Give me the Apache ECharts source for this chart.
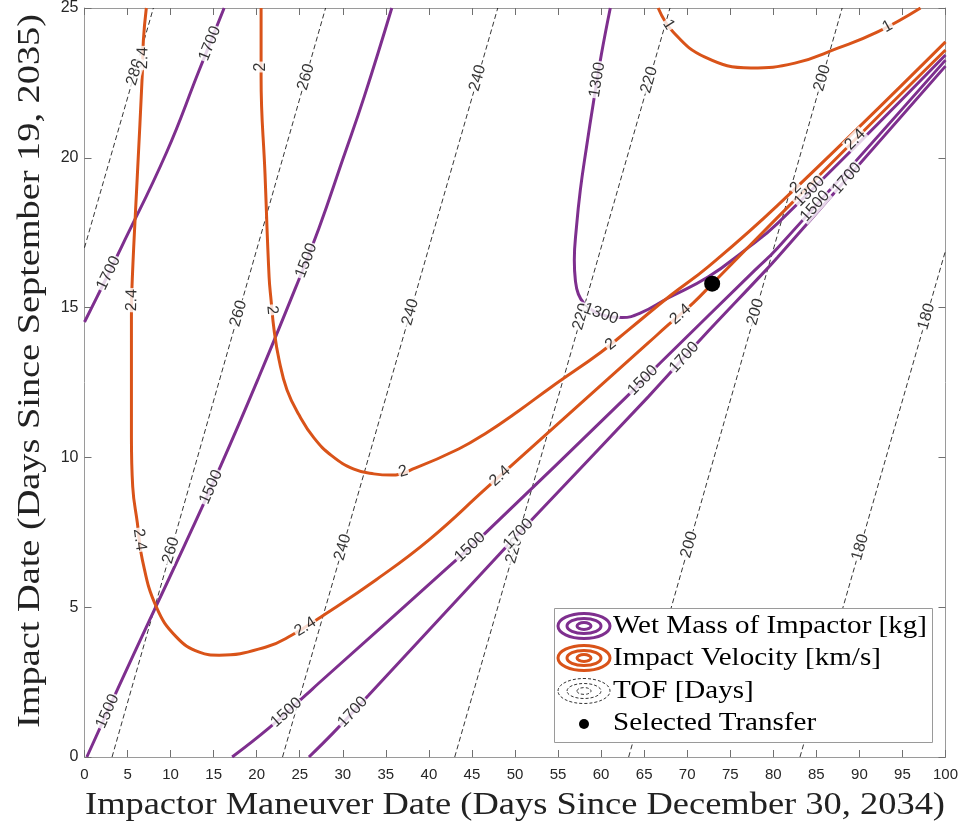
<!DOCTYPE html>
<html>
<head>
<meta charset="utf-8">
<script src="https://cdn.jsdelivr.net/npm/echarts@6/dist/echarts.min.js"></script>
<style>
  html, body { margin: 0; padding: 0; background: #fff; }
  #main { width: 961px; height: 832px; }
</style>
</head>
<body>
<div id="main"></div>
<script>
// Axis ranges (days)
const xRange = [0, 100];
const yRange = [0, 25];
const tickStep = 5;

// Time-of-flight contours [days], (maneuver day, impact day)
const tof280 = [[0, 17.0], [8.0, 25]];
const tof260 = [[3.2, 0], [28.0, 25]];
const tof240 = [[23.0, 0], [48.0, 25]];
const tof220 = [[43.0, 0], [68.0, 25]];
const tof200 = [[63.2, 0], [88.0, 25]];
const tof180 = [[83.1, 0], [100, 16.9]];

// Wet mass of impactor contours [kg]
const mass1700Upper = [[0, 14.52], [1.74, 15.52], [4.29, 17.02], [9.5, 20.16], [13.33, 22.93], [16.22, 25]];
const mass1500Upper = [[0.27, 0], [4.06, 2.40], [7.53, 4.55], [11.59, 7.05], [15.87, 9.75], [20.28, 12.70],
  [24.57, 15.70], [27.23, 17.65], [30.0, 19.95], [32.5, 22.05], [35.69, 25]];
const mass1300 = [[61.07, 25], [60.02, 23.43], [59.10, 21.83], [58.29, 20.33], [57.59, 18.93], [57.13, 17.66],
  [56.89, 16.59], [57.01, 15.92], [57.36, 15.45], [58.05, 15.13], [59.21, 14.87], [60.83, 14.70],
  [62.46, 14.67], [64.66, 14.83], [67.79, 15.32], [72.42, 16.02], [76.71, 16.92], [80.53, 17.82], [100, 23.43]];
const mass1500Lower = [[17.15, 0], [21.44, 0.97], [25.72, 2.07], [27.23, 2.47], [42.53, 6.41], [46.58, 7.48],
  [62.80, 11.98], [66.86, 13.15], [77.87, 16.25], [80.53, 17.0], [100, 23.26]];
const mass1700Lower = [[26.07, 0], [28.97, 0.83], [33.02, 2.07], [48.32, 6.81], [52.14, 7.98], [65.47, 12.02],
  [67.79, 12.75], [71.49, 13.92], [79.14, 16.25], [80.53, 16.69], [100, 23.06]];

// Impact velocity contours [km/s]
const vel24 = [[7.18, 25], [6.84, 23.93], [6.72, 22.83], [6.14, 19.43], [5.56, 16.02], [5.45, 14.69],
  [5.45, 10.68], [5.6, 9.02], [6.14, 7.81], [6.72, 6.58], [8.34, 5.01], [10.66, 4.01], [13.33, 3.50],
  [15.64, 3.40], [21.09, 3.67], [24.10, 4.07], [27.81, 4.74], [33.84, 5.91], [39.98, 7.24], [46.70, 8.98],
  [56.08, 11.40], [65.47, 13.82], [67.79, 14.42], [70.68, 15.15], [72.89, 15.79], [80.53, 18.02],
  [90.96, 21.03], [100, 23.60]];
const vel2 = [[20.51, 25], [20.51, 22.70], [20.97, 19.43], [21.44, 16.02], [21.67, 15.25], [22.02, 14.25],
  [22.60, 13.25], [23.52, 12.25], [24.91, 11.42], [26.65, 10.65], [28.74, 10.05], [31.29, 9.61],
  [33.60, 9.45], [35.69, 9.41], [38.47, 9.65], [43.45, 10.28], [46.58, 10.80], [50.41, 11.55],
  [54.23, 12.35], [60.02, 13.52], [63.15, 14.25], [68.13, 15.42], [72.42, 16.36], [80.53, 18.42], [100, 23.87]];
const vel1 = [[66.63, 25], [68.37, 24.20], [72.07, 23.36], [77.40, 23.0], [82.50, 23.16], [87.49, 23.66],
  [92.12, 24.20], [97.10, 25]];

// Chosen (maneuver day, impact day)
const selectedTransfer = [72.9, 15.8];

// Where each contour carries its inline value label
const tof280Labels = [[5.85, 22.86]];
const tof260Labels = [[10.0, 6.9], [17.9, 14.8], [25.7, 22.7]];
const tof240Labels = [[30.0, 7.0], [37.85, 14.85], [45.7, 22.66]];
const tof220Labels = [[49.9, 6.9], [57.7, 14.7], [65.6, 22.6]];
const tof200Labels = [[70.1, 7.1], [78.0, 14.85], [85.7, 22.66]];
const tof180Labels = [[90.1, 7.0], [97.8, 14.7]];
const mass1700UpperLabels = [[2.8, 16.15], [14.7, 23.8]];
const mass1500UpperLabels = [[2.9, 1.5], [14.8, 9.0], [25.5, 16.6]];
const mass1300Labels = [[59.7, 22.6], [60.0, 14.8], [83.8, 19.0]];
const mass1500LowerLabels = [[23.4, 1.5], [44.8, 7.0], [65.1, 12.5], [84.8, 18.4]];
const mass1700LowerLabels = [[30.9, 1.57], [50.4, 7.44], [69.8, 13.3], [88.4, 19.35]];
const vel24Labels = [[6.95, 23.33], [5.45, 15.25], [6.14, 7.24], [25.72, 4.31], [48.67, 9.25], [69.29, 14.75], [89.57, 20.59]];
const vel2Labels = [[20.51, 23.03], [21.67, 14.92], [37.08, 9.48], [61.18, 13.75], [82.5, 19.03]];
const vel1Labels = [[67.79, 24.43], [93.28, 24.37]];

// Legend entries
const legendNames = ['Wet Mass of Impactor [kg]', 'Impact Velocity [km/s]', 'TOF [Days]', 'Selected Transfer'];
const xTitle = 'Impactor Maneuver Date (Days Since December 30, 2034)';
const yTitle = 'Impact Date (Days Since September 19, 2035)';

const PURPLE = '#7E2F8E';
const ORANGE = '#D95319';

const contours = [
  { kind: 'tof', text: '280', pts: tof280, labels: tof280Labels },
  { kind: 'tof', text: '260', pts: tof260, labels: tof260Labels },
  { kind: 'tof', text: '240', pts: tof240, labels: tof240Labels },
  { kind: 'tof', text: '220', pts: tof220, labels: tof220Labels },
  { kind: 'tof', text: '200', pts: tof200, labels: tof200Labels },
  { kind: 'tof', text: '180', pts: tof180, labels: tof180Labels },
  { kind: 'mass', text: '1700', pts: mass1700Upper, labels: mass1700UpperLabels },
  { kind: 'mass', text: '1500', pts: mass1500Upper, labels: mass1500UpperLabels },
  { kind: 'mass', text: '1300', pts: mass1300, labels: mass1300Labels },
  { kind: 'mass', text: '1500', pts: mass1500Lower, labels: mass1500LowerLabels },
  { kind: 'mass', text: '1700', pts: mass1700Lower, labels: mass1700LowerLabels },
  { kind: 'vel', text: '2.4', pts: vel24, labels: vel24Labels },
  { kind: 'vel', text: '2', pts: vel2, labels: vel2Labels },
  { kind: 'vel', text: '1', pts: vel1, labels: vel1Labels }
];

const chart = echarts.init(document.getElementById('main'), null, { renderer: 'canvas' });

const AXIS_GRAY = '#9a9a9a';
const TICK_FONT = { fontFamily: '"Liberation Sans", Arial, sans-serif', fontSize: 15, color: '#262626' };

function valueAxis(pos, range, showLabels, isX) {
  return {
    type: 'value', position: pos, min: range[0], max: range[1], interval: tickStep,
    axisLine: { show: true, onZero: false, lineStyle: { color: AXIS_GRAY, width: 1 } },
    axisTick: { show: true, inside: true, length: 7, lineStyle: { color: '#707070', width: 1 } },
    axisLabel: Object.assign({ show: showLabels, margin: isX ? 10 : 6, showMinLabel: true, showMaxLabel: true },
      TICK_FONT, isX ? {} : { fontSize: 16 }),
    splitLine: { show: false }
  };
}

const lineSeries = contours.map(c => ({
  type: 'line',
  data: c.pts,
  showSymbol: false,
  symbol: 'none',
  smooth: c.kind === 'tof' ? false : 0.45,
  silent: true,
  clip: true,
  z: c.kind === 'tof' ? 2 : 3,
  lineStyle: c.kind === 'tof'
    ? { color: '#000', width: 0.8, type: [5, 3] }
    : { color: c.kind === 'mass' ? PURPLE : ORANGE, width: 3 }
}));

function measureScale(text, font, target) {
  const ctx = document.createElement('canvas').getContext('2d');
  ctx.font = font;
  return target / ctx.measureText(text).width;
}

const titleFont = '31px "Liberation Serif", "Times New Roman", serif';
const xTitleScale = measureScale(xTitle, titleFont, 860);
const yTitleScale = measureScale(yTitle, titleFont, 714);
const legendFont = '26px "Liberation Serif", "Times New Roman", serif';
const legendScale = measureScale(legendNames[0], legendFont, 314);

function rings(cx, cy, color, dashed) {
  const radii = [[26, 12.5], [17, 7.5], [7, 3.4]];
  return radii.map(r => ({
    type: 'ellipse', z: 101,
    shape: { cx, cy, rx: r[0], ry: r[1] },
    style: dashed
      ? { fill: 'none', stroke: '#000', lineWidth: 0.8, lineDash: [3, 2] }
      : { fill: 'none', stroke: color, lineWidth: 3 }
  }));
}

const legendRows = [626, 658, 691, 723];
const legendGraphics = [
  { type: 'rect', z: 100, shape: { x: 554.5, y: 608.5, width: 378, height: 134 },
    style: { fill: '#fff', stroke: '#9a9a9a', lineWidth: 1 } },
  ...rings(584, legendRows[0], PURPLE, false),
  ...rings(584, legendRows[1], ORANGE, false),
  ...rings(584, legendRows[2], '#000', true),
  { type: 'circle', z: 101, shape: { cx: 584, cy: legendRows[3] + 1, r: 5 }, style: { fill: '#000' } },
  ...legendNames.map((t, i) => ({
    type: 'text', z: 101, x: 613, y: legendRows[i], scaleX: legendScale,
    style: { text: t, font: legendFont, fill: '#000', align: 'left', verticalAlign: 'middle' }
  }))
];

const titleGraphics = [
  { type: 'text', x: 515, y: 806, scaleX: xTitleScale,
    style: { text: xTitle, font: titleFont, fill: '#222', align: 'center', verticalAlign: 'middle' } },
  { type: 'text', x: 31, y: 371, rotation: Math.PI / 2, scaleX: yTitleScale,
    style: { text: yTitle, font: titleFont, fill: '#222', align: 'center', verticalAlign: 'middle' } }
];

chart.setOption({
  animation: false,
  backgroundColor: '#fff',
  grid: { left: 84.5, right: 13.5, top: 8, bottom: 75, containLabel: false },
  xAxis: [valueAxis('bottom', xRange, true, true), valueAxis('top', xRange, false, true)],
  yAxis: [valueAxis('left', yRange, true, false), valueAxis('right', yRange, false, false)],
  series: lineSeries,
  graphic: [...titleGraphics, ...legendGraphics]
});

// Snap each label onto its contour (in screen space) and align it with the local direction
function placeLabel(pts, approx) {
  const finder = { seriesIndex: 0 };
  const px = pts.map(p => chart.convertToPixel(finder, p));
  const q = chart.convertToPixel(finder, approx);
  let best = null;
  for (let i = 0; i < px.length - 1; i++) {
    const a = px[i], b = px[i + 1];
    const dx = b[0] - a[0], dy = b[1] - a[1];
    const L2 = dx * dx + dy * dy;
    let t = L2 ? ((q[0] - a[0]) * dx + (q[1] - a[1]) * dy) / L2 : 0;
    t = Math.max(0, Math.min(1, t));
    const p = [a[0] + t * dx, a[1] + t * dy];
    const d = (p[0] - q[0]) ** 2 + (p[1] - q[1]) ** 2;
    if (!best || d < best.d) best = { d, p, dx, dy };
  }
  let ang = Math.atan2(-best.dy, best.dx) * 180 / Math.PI;
  if (ang > 90) ang -= 180;
  if (ang <= -90) ang += 180;
  return { value: chart.convertFromPixel(finder, best.p), rotate: ang };
}

const labelItems = [];
contours.forEach(c => {
  c.labels.forEach(l => {
    const pl = placeLabel(c.pts, l);
    labelItems.push({ value: pl.value, label: { formatter: c.text, rotate: pl.rotate } });
  });
});

chart.setOption({
  series: [
    ...lineSeries,
    {
      type: 'scatter', name: 'contour labels', data: labelItems, symbol: 'circle', symbolSize: 1,
      silent: true, z: 5,
      itemStyle: { color: 'rgba(0,0,0,0)' },
      label: {
        show: true, position: 'inside', color: '#000', fontSize: 16, lineHeight: 14,
        fontFamily: '"Liberation Sans", Arial, sans-serif',
        backgroundColor: '#fff', padding: [0, 1]
      },
      labelLayout: { hideOverlap: false }
    },
    {
      type: 'scatter', name: 'Selected Transfer', data: [selectedTransfer], symbol: 'circle',
      symbolSize: 16, silent: true, z: 6, itemStyle: { color: '#000', opacity: 1 }
    }
  ]
});
</script>
</body>
</html>
